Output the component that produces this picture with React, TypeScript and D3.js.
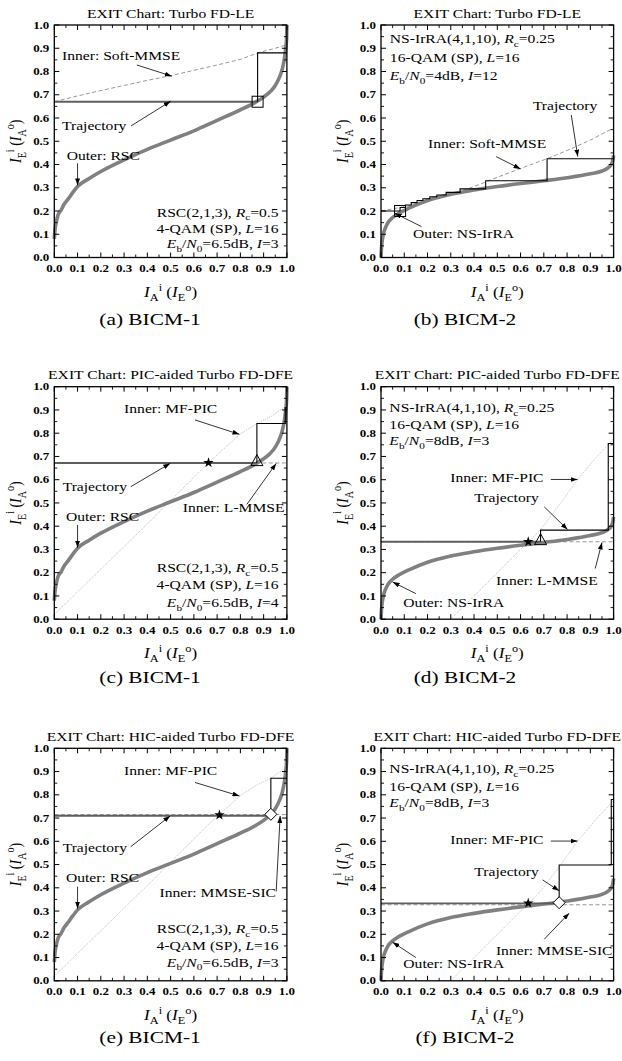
import React from 'react';
import * as d3 from 'd3';

const FONT = "'Liberation Serif', 'Times New Roman', Times, serif";
const SX = 1.22;

// ---------- axis ticks ----------
const tickValues = [0, 0.1, 0.2, 0.3, 0.4, 0.5, 0.6, 0.7, 0.8, 0.9, 1.0];
const tickLabels = ['0.0', '0.1', '0.2', '0.3', '0.4', '0.5', '0.6', '0.7', '0.8', '0.9', '1.0'];
const minorTickValues = [0.05, 0.15, 0.25, 0.35, 0.45, 0.55, 0.65, 0.75, 0.85, 0.95];

// ---------- curves ----------
// Outer: RSC (BICM-1)
const outerRscX = [0, 0.003, 0.008, 0.015, 0.03, 0.04, 0.06, 0.08, 0.1, 0.15, 0.2, 0.3, 0.4, 0.5, 0.6, 0.7, 0.8, 0.86, 0.9, 0.93, 0.95, 0.97, 0.98, 0.99, 0.995, 0.999, 1.0];
const outerRscY = [0.08, 0.12, 0.15, 0.18, 0.205, 0.225, 0.252, 0.28, 0.305, 0.34, 0.37, 0.42, 0.465, 0.505, 0.545, 0.59, 0.635, 0.665, 0.69, 0.715, 0.74, 0.78, 0.81, 0.86, 0.9, 0.95, 1.0];
// Outer: NS-IrRA (BICM-2)
const outerIrraX = [0, 0.002, 0.005, 0.01, 0.02, 0.03, 0.05, 0.08, 0.12, 0.2, 0.3, 0.4, 0.5, 0.6, 0.7, 0.8, 0.9, 0.95, 0.975, 0.99, 0.997, 1.0];
const outerIrraY = [0, 0.04, 0.07, 0.1, 0.13, 0.15, 0.172, 0.192, 0.212, 0.245, 0.272, 0.29, 0.305, 0.318, 0.33, 0.343, 0.36, 0.372, 0.385, 0.4, 0.42, 0.44];
// Inner: Soft-MMSE
const softMmse1X = [0, 0.1, 0.2, 0.3, 0.4, 0.5, 0.6, 0.7, 0.8, 0.875, 0.95, 1.0];
const softMmse1Y = [0.67, 0.695, 0.718, 0.74, 0.762, 0.782, 0.805, 0.828, 0.852, 0.88, 0.9, 0.915];
const softMmse2X = [0, 0.1, 0.2, 0.3, 0.4, 0.5, 0.6, 0.714, 0.8, 0.9, 1.0];
const softMmse2Y = [0.2, 0.218, 0.242, 0.27, 0.305, 0.345, 0.383, 0.425, 0.46, 0.505, 0.557];
// Inner: MF-PIC
const mfPic1X = [0, 0.2, 0.4, 0.5, 0.663, 0.8, 0.871, 0.931, 0.985, 1.0];
const mfPic1Y = [0.02, 0.215, 0.41, 0.51, 0.673, 0.797, 0.842, 0.871, 0.91, 0.915];
const mfPic2X = [0.3, 0.45, 0.633, 0.686, 0.766, 0.845, 0.92, 1.0];
const mfPic2Y = [0, 0.15, 0.333, 0.385, 0.49, 0.6, 0.69, 0.775];
// Inner: L-MMSE / MMSE-SIC (flat)
const lMmse1X = [0, 1];
const lMmse1Y = [0.672, 0.672];
const lMmse2X = [0, 1];
const lMmse2Y = [0.333, 0.333];
const mmseSic1X = [0, 1];
const mmseSic1Y = [0.715, 0.715];
const mmseSic2X = [0, 1];
const mmseSic2Y = [0.327, 0.327];

// ---------- trajectories (step x, level y) ----------
const trajAX = [0.874, 1.0];
const trajAL = [0.67, 0.88];
const trajBX = [0.082, 0.105, 0.13, 0.155, 0.18, 0.21, 0.24, 0.28, 0.34, 0.45, 0.714, 1.0];
const trajBL = [0.2, 0.215, 0.226, 0.236, 0.245, 0.253, 0.261, 0.269, 0.28, 0.295, 0.33, 0.425];
const trajCX = [0.871, 0.993, 1.0];
const trajCL = [0.672, 0.842, 0.91];
const trajDX = [0.686, 0.977, 1.0];
const trajDL = [0.333, 0.383, 0.756];
const trajEX = [0.931, 1.0];
const trajEL = [0.71, 0.871];
const trajFX = [0.766, 0.99, 1.0];
const trajFL = [0.333, 0.498, 0.78];

// ---------- markers ----------
const markersA = [{ x: 0.874, y: 0.67, shape: 'square' }];
const markersB = [{ x: 0.082, y: 0.2, shape: 'square' }];
const markersC = [{ x: 0.663, y: 0.673, shape: 'star' }, { x: 0.871, y: 0.68, shape: 'triangle' }];
const markersD = [{ x: 0.633, y: 0.333, shape: 'star' }, { x: 0.686, y: 0.34, shape: 'triangle' }];
const markersE = [{ x: 0.71, y: 0.713, shape: 'star' }, { x: 0.931, y: 0.716, shape: 'diamond' }];
const markersF = [{ x: 0.633, y: 0.334, shape: 'star' }, { x: 0.766, y: 0.336, shape: 'diamond' }];

// ---------- text helpers ----------
type Seg = { t: string; it?: boolean; k?: 'sub' | 'sup' };
const n = (t: string): Seg => ({ t });
const it = (t: string): Seg => ({ t, it: true });
const sub = (t: string): Seg => ({ t, k: 'sub' });
const sup = (t: string): Seg => ({ t, k: 'sup' });

const paramsRsc = (iters: string): Seg[][] => [
  [n('RSC(2,1,3), '), it('R'), sub('c'), n('=0.5')],
  [n('4-QAM (SP), '), it('L'), n('=16')],
  [it('E'), sub('b'), n('/'), it('N'), sub('0'), n('=6.5dB, '), it('I'), n('=' + iters)],
];
const paramsIrra = (snr: string, iters: string): Seg[][] => [
  [n('NS-IrRA(4,1,10), '), it('R'), sub('c'), n('=0.25')],
  [n('16-QAM (SP), '), it('L'), n('=16')],
  [it('E'), sub('b'), n('/'), it('N'), sub('0'), n('=' + snr + ', '), it('I'), n('=' + iters)],
];
const xLabelSegs: Seg[] = [it('I'), sub('A'), sup('i'), n(' ('), it('I'), sub('E'), sup('o'), n(')')];
const yLabelSegs: Seg[] = [it('I'), sub('E'), sup('i'), n(' ('), it('I'), sub('A'), sup('o'), n(')')];

// ---------- layout ----------
const PW = 232.6;
const PH = 232.5;
const colLeft = [54.3, 381];
const rowTop = [25, 386.7, 748.3];
const captionBase = [325, 683, 1043];
const captionX = [150, 465];

type Curve = { xs: number[]; ys: number[]; kind: 'outer' | 'dash' | 'dot' };
type Ann = { x: number; y: number; text: string };
type Arr = [number, number, number, number];

interface PanelCfg {
  id: string; col: number; row: number; title: string; caption: string;
  curves: Curve[]; trajX: number[]; trajL: number[]; boldFirst: boolean;
  markers: { x: number; y: number; shape: string }[];
  anns: Ann[]; arrows: Arr[];
  params: Seg[][]; paramX: number; paramY: number[]; paramAnchor: 'start' | 'end';
}

const panels: PanelCfg[] = [
  {
    id: 'a', col: 0, row: 0, title: 'EXIT Chart: Turbo FD-LE', caption: '(a) BICM-1',
    curves: [
      { xs: softMmse1X, ys: softMmse1Y, kind: 'dash' },
      { xs: outerRscX, ys: outerRscY, kind: 'outer' },
    ],
    trajX: trajAX, trajL: trajAL, boldFirst: true, markers: markersA,
    anns: [
      { x: 0.033, y: 0.85, text: 'Inner: Soft-MMSE' },
      { x: 0.033, y: 0.549, text: 'Trajectory' },
      { x: 0.053, y: 0.42, text: 'Outer: RSC' },
    ],
    arrows: [[0.355, 0.828, 0.505, 0.78], [0.33, 0.566, 0.5, 0.672], [0.1, 0.405, 0.1, 0.31]],
    params: paramsRsc('3'), paramX: 0.964, paramY: [0.176, 0.105, 0.04], paramAnchor: 'end',
  },
  {
    id: 'b', col: 1, row: 0, title: 'EXIT Chart: Turbo FD-LE', caption: '(b) BICM-2',
    curves: [
      { xs: softMmse2X, ys: softMmse2Y, kind: 'dash' },
      { xs: outerIrraX, ys: outerIrraY, kind: 'outer' },
    ],
    trajX: trajBX, trajL: trajBL, boldFirst: false, markers: markersB,
    anns: [
      { x: 0.653, y: 0.635, text: 'Trajectory' },
      { x: 0.202, y: 0.47, text: 'Inner: Soft-MMSE' },
      { x: 0.138, y: 0.083, text: 'Outer: NS-IrRA' },
    ],
    arrows: [[0.818, 0.613, 0.846, 0.434], [0.495, 0.434, 0.6, 0.381], [0.174, 0.133, 0.059, 0.19]],
    params: paramsIrra('4dB', '12'), paramX: 0.038, paramY: [0.921, 0.842, 0.764], paramAnchor: 'start',
  },
  {
    id: 'c', col: 0, row: 1, title: 'EXIT Chart: PIC-aided Turbo FD-DFE', caption: '(c) BICM-1',
    curves: [
      { xs: mfPic1X, ys: mfPic1Y, kind: 'dot' },
      { xs: lMmse1X, ys: lMmse1Y, kind: 'dash' },
      { xs: outerRscX, ys: outerRscY, kind: 'outer' },
    ],
    trajX: trajCX, trajL: trajCL, boldFirst: true, markers: markersC,
    anns: [
      { x: 0.3, y: 0.885, text: 'Inner: MF-PIC' },
      { x: 0.036, y: 0.551, text: 'Trajectory' },
      { x: 0.05, y: 0.423, text: 'Outer: RSC' },
      { x: 0.552, y: 0.462, text: 'Inner: L-MMSE' },
    ],
    arrows: [[0.605, 0.857, 0.796, 0.795], [0.329, 0.57, 0.498, 0.67], [0.1, 0.405, 0.1, 0.307], [0.828, 0.494, 0.954, 0.67]],
    params: paramsRsc('4'), paramX: 0.964, paramY: [0.204, 0.128, 0.053], paramAnchor: 'end',
  },
  {
    id: 'd', col: 1, row: 1, title: 'EXIT Chart: PIC-aided Turbo FD-DFE', caption: '(d) BICM-2',
    curves: [
      { xs: mfPic2X, ys: mfPic2Y, kind: 'dot' },
      { xs: lMmse2X, ys: lMmse2Y, kind: 'dash' },
      { xs: outerIrraX, ys: outerIrraY, kind: 'outer' },
    ],
    trajX: trajDX, trajL: trajDL, boldFirst: true, markers: markersD,
    anns: [
      { x: 0.298, y: 0.588, text: 'Inner: MF-PIC' },
      { x: 0.401, y: 0.505, text: 'Trajectory' },
      { x: 0.494, y: 0.149, text: 'Inner: L-MMSE' },
      { x: 0.096, y: 0.053, text: 'Outer: NS-IrRA' },
    ],
    arrows: [[0.73, 0.601, 0.845, 0.601], [0.702, 0.483, 0.802, 0.386], [0.921, 0.218, 0.95, 0.33], [0.15, 0.11, 0.05, 0.16]],
    params: paramsIrra('8dB', '3'), paramX: 0.036, paramY: [0.892, 0.818, 0.749], paramAnchor: 'start',
  },
  {
    id: 'e', col: 0, row: 2, title: 'EXIT Chart: HIC-aided Turbo FD-DFE', caption: '(e) BICM-1',
    curves: [
      { xs: mfPic1X, ys: mfPic1Y, kind: 'dot' },
      { xs: mmseSic1X, ys: mmseSic1Y, kind: 'dash' },
      { xs: outerRscX, ys: outerRscY, kind: 'outer' },
    ],
    trajX: trajEX, trajL: trajEL, boldFirst: true, markers: markersE,
    anns: [
      { x: 0.3, y: 0.885, text: 'Inner: MF-PIC' },
      { x: 0.036, y: 0.556, text: 'Trajectory' },
      { x: 0.05, y: 0.427, text: 'Outer: RSC' },
      { x: 0.452, y: 0.362, text: 'Inner: MMSE-SIC' },
    ],
    arrows: [[0.605, 0.853, 0.796, 0.795], [0.329, 0.577, 0.498, 0.709], [0.1, 0.405, 0.1, 0.31], [0.954, 0.384, 0.971, 0.709]],
    params: paramsRsc('3'), paramX: 0.964, paramY: [0.205, 0.133, 0.061], paramAnchor: 'end',
  },
  {
    id: 'f', col: 1, row: 2, title: 'EXIT Chart: HIC-aided Turbo FD-DFE', caption: '(f) BICM-2',
    curves: [
      { xs: mfPic2X, ys: mfPic2Y, kind: 'dot' },
      { xs: mmseSic2X, ys: mmseSic2Y, kind: 'dash' },
      { xs: outerIrraX, ys: outerIrraY, kind: 'outer' },
    ],
    trajX: trajFX, trajL: trajFL, boldFirst: true, markers: markersF,
    anns: [
      { x: 0.298, y: 0.589, text: 'Inner: MF-PIC' },
      { x: 0.401, y: 0.452, text: 'Trajectory' },
      { x: 0.494, y: 0.112, text: 'Inner: MMSE-SIC' },
      { x: 0.096, y: 0.057, text: 'Outer: NS-IrRA' },
    ],
    arrows: [[0.73, 0.601, 0.845, 0.601], [0.695, 0.434, 0.766, 0.387], [0.702, 0.179, 0.809, 0.291], [0.15, 0.1, 0.05, 0.166]],
    params: paramsIrra('8dB', '3'), paramX: 0.036, paramY: [0.892, 0.818, 0.749], paramAnchor: 'start',
  },
];

// ---------- components ----------
function RichText({ x, y, segs, size, anchor = 'start', rotate = false, weight = 'normal' }:
  { x: number; y: number; segs: Seg[]; size: number; anchor?: string; rotate?: boolean; weight?: string }) {
  let cur = 0;
  const spans = segs.map((s, i) => {
    const target = s.k === 'sub' ? size * 0.3 : s.k === 'sup' ? -size * 0.42 : 0;
    const dy = target - cur;
    cur = target;
    return (
      <tspan key={i} dy={dy} fontStyle={s.it ? 'italic' : 'normal'} fontSize={s.k ? size * 0.72 : size}>
        {s.t}
      </tspan>
    );
  });
  const tr = rotate
    ? `translate(${x},${y}) rotate(-90) scale(1,${SX})`
    : `translate(${x},${y}) scale(${SX},1)`;
  return (
    <text transform={tr} textAnchor={anchor} fontSize={size} fontWeight={weight} fill="#000" style={{ whiteSpace: 'pre' }}>
      {spans}
    </text>
  );
}

function Panel({ cfg }: { cfg: PanelCfg }) {
  const left = colLeft[cfg.col];
  const top = rowTop[cfg.row];
  const x = d3.scaleLinear().domain([0, 1]).range([left, left + PW]);
  const y = d3.scaleLinear().domain([0, 1]).range([top + PH, top]);
  const smooth = d3.line<[number, number]>().x(d => x(d[0])).y(d => y(d[1])).curve(d3.curveMonotoneX);
  const lin = d3.line<[number, number]>().x(d => x(d[0])).y(d => y(d[1]));

  const trajPts: [number, number][] = [[0, cfg.trajL[0]]];
  cfg.trajX.forEach((sx, i) => {
    trajPts.push([sx, cfg.trajL[i]]);
    if (i + 1 < cfg.trajL.length) trajPts.push([sx, cfg.trajL[i + 1]]);
  });
  const thinPts = cfg.boldFirst ? trajPts.slice(1) : trajPts;

  const curveStyle = (k: string) =>
    k === 'outer'
      ? { stroke: '#808080', strokeWidth: 3.6 }
      : k === 'dash'
        ? { stroke: '#8c8c8c', strokeWidth: 0.9, strokeDasharray: '4,2.5' }
        : { stroke: '#a0a0a0', strokeWidth: 0.7, strokeDasharray: '1,1.2' };

  const star = d3.symbol().type(d3.symbolStar).size(34)();

  return (
    <g>
      {/* title */}
      <text transform={`translate(${left + PW / 2},${top - 7.5}) scale(${SX},1)`} textAnchor="middle" fontSize={12.8}>
        {cfg.title}
      </text>
      {/* curves */}
      {cfg.curves.map((c, i) => (
        <path key={i} d={(c.kind === 'outer' ? smooth : lin)(c.xs.map((v, j) => [v, c.ys[j]] as [number, number])) || ''}
          fill="none" {...curveStyle(c.kind)} />
      ))}
      {/* trajectory */}
      {cfg.boldFirst && (
        <path d={lin(trajPts.slice(0, 2)) || ''} fill="none" stroke="#5e5e5e" strokeWidth={1.9} />
      )}
      <path d={lin(thinPts) || ''} fill="none" stroke="#000" strokeWidth={1.1} />
      {/* frame */}
      <rect x={left} y={top} width={PW} height={PH} fill="none" stroke="#000" strokeWidth={1.3} />
      {/* ticks */}
      {tickValues.map((t, i) => (
        <g key={'t' + i}>
          <line x1={x(t)} x2={x(t)} y1={top + PH} y2={top + PH - 5} stroke="#000" strokeWidth={1} />
          <line x1={x(t)} x2={x(t)} y1={top} y2={top + 5} stroke="#000" strokeWidth={1} />
          <line x1={left} x2={left + 5} y1={y(t)} y2={y(t)} stroke="#000" strokeWidth={1} />
          <line x1={left + PW} x2={left + PW - 5} y1={y(t)} y2={y(t)} stroke="#000" strokeWidth={1} />
          <text transform={`translate(${x(t)},${top + PH + 14.5}) scale(${SX},1)`} textAnchor="middle" fontSize={10.6} fontWeight="bold">{tickLabels[i]}</text>
          <text transform={`translate(${left - 5},${y(t) + 3.6}) scale(${SX},1)`} textAnchor="end" fontSize={10.6} fontWeight="bold">{tickLabels[i]}</text>
        </g>
      ))}
      {minorTickValues.map((t, i) => (
        <g key={'m' + i}>
          <line x1={x(t)} x2={x(t)} y1={top + PH} y2={top + PH - 3} stroke="#000" strokeWidth={0.9} />
          <line x1={x(t)} x2={x(t)} y1={top} y2={top + 3} stroke="#000" strokeWidth={0.9} />
          <line x1={left} x2={left + 3} y1={y(t)} y2={y(t)} stroke="#000" strokeWidth={0.9} />
          <line x1={left + PW} x2={left + PW - 3} y1={y(t)} y2={y(t)} stroke="#000" strokeWidth={0.9} />
        </g>
      ))}
      {/* markers */}
      {cfg.markers.map((m, i) => {
        const cx = x(m.x), cy = y(m.y);
        if (m.shape === 'square') return <rect key={i} x={cx - 5.5} y={cy - 5.5} width={11} height={11} fill="none" stroke="#000" strokeWidth={1} />;
        if (m.shape === 'triangle') return <path key={i} d={`M${cx},${cy - 6.5} L${cx + 6},${cy + 4.5} L${cx - 6},${cy + 4.5} Z`} fill="none" stroke="#000" strokeWidth={1} />;
        if (m.shape === 'diamond') return <path key={i} d={`M${cx},${cy - 6} L${cx + 6},${cy} L${cx},${cy + 6} L${cx - 6},${cy} Z`} fill="#fff" stroke="#000" strokeWidth={1} />;
        return <path key={i} d={star || ''} transform={`translate(${cx},${cy})`} fill="#000" />;
      })}
      {/* annotations */}
      {cfg.anns.map((a, i) => (
        <text key={'a' + i} transform={`translate(${x(a.x)},${y(a.y)}) scale(${SX},1)`} fontSize={12.8}>{a.text}</text>
      ))}
      {cfg.arrows.map((a, i) => (
        <line key={'ar' + i} x1={x(a[0])} y1={y(a[1])} x2={x(a[2])} y2={y(a[3])} stroke="#000" strokeWidth={0.8} markerEnd="url(#ah)" />
      ))}
      {/* params */}
      {cfg.params.map((segs, i) => (
        <RichText key={'p' + i} x={x(cfg.paramX)} y={y(cfg.paramY[i])} segs={segs} size={12.8} anchor={cfg.paramAnchor} />
      ))}
      {/* axis labels */}
      <RichText x={left + PW / 2} y={top + PH + 39} segs={xLabelSegs} size={14} anchor="middle" />
      <RichText x={left - 33} y={top + PH / 2} segs={yLabelSegs} size={14} anchor="middle" rotate />
      {/* caption */}
      <text transform={`translate(${captionX[cfg.col]},${captionBase[cfg.row]}) scale(${SX},1)`} textAnchor="middle" fontSize={17.5} style={{ whiteSpace: 'pre' }}>
        {cfg.caption}
      </text>
    </g>
  );
}

export default function App() {
  return (
    <svg width={622} height={1061} style={{ position: 'absolute', left: 0, top: 0, background: '#fff' }} fontFamily={FONT}>
      <defs>
        <marker id="ah" viewBox="0 0 10 7" refX="10" refY="3.5" markerWidth="7" markerHeight="4.9" orient="auto" markerUnits="userSpaceOnUse">
          <path d="M0,0 L10,3.5 L0,7 Z" fill="#000" />
        </marker>
      </defs>
      {panels.map(p => <Panel key={p.id} cfg={p} />)}
    </svg>
  );
}
